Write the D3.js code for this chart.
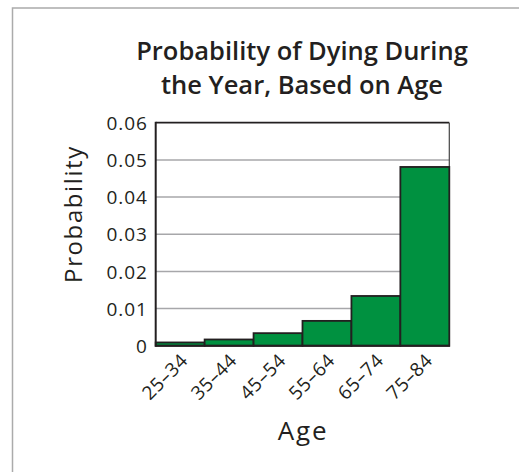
<!DOCTYPE html>
<html><head><meta charset="utf-8">
<script src="https://cdn.jsdelivr.net/npm/d3@7"></script>
<style>body{margin:0;background:#fff;}svg{display:block;}</style>
</head><body>
<script>
const categories = ["25–34","35–44","45–54","55–64","65–74","75–84"];
const values = [0.0009, 0.0017, 0.0034, 0.0067, 0.0134, 0.0481];
const yTicks = [0, 0.01, 0.02, 0.03, 0.04, 0.05, 0.06];
const yTickLabels = ["0","0.01","0.02","0.03","0.04","0.05","0.06"];
const titleLines = ["Probability of Dying During","the Year, Based on Age"];

const W = 519, H = 472;
const m = {left:155.7, top:122.7, right:449.3, bottom:345.8};
const font = "'Open Sans', sans-serif";
const ink = "#231f20";
const svg = d3.select("body").append("svg").attr("width",W).attr("height",H);

// outer frame
svg.append("path").attr("d",`M12.5,${H}V8H${W}`).attr("fill","none").attr("stroke","#ababab").attr("stroke-width",1.5);

const x = d3.scaleBand().domain(categories).range([m.left,m.right]).padding(0);
const y = d3.scaleLinear().domain([0,0.06]).range([m.bottom,m.top]);

// gridlines
svg.append("g").selectAll("line").data(yTicks.filter(d=>d>0 && d<0.06)).join("line")
  .attr("x1",m.left).attr("x2",m.right).attr("y1",d=>y(d)).attr("y2",d=>y(d))
  .attr("stroke","#a7a7aa").attr("stroke-width",1.5);

// top and right frame
svg.append("line").attr("x1",m.left).attr("x2",m.right).attr("y1",m.top).attr("y2",m.top).attr("stroke",ink).attr("stroke-width",1.8);
svg.append("line").attr("x1",m.right).attr("x2",m.right).attr("y1",m.top).attr("y2",m.bottom).attr("stroke","#444").attr("stroke-width",1.2);

// bars
svg.append("g").selectAll("rect").data(values).join("rect")
  .attr("x",(d,i)=>x(categories[i]))
  .attr("width",x.bandwidth())
  .attr("y",d=>y(d))
  .attr("height",d=>m.bottom-y(d))
  .attr("fill","#009140").attr("stroke",ink).attr("stroke-width",1.8);

// left axis and baseline
svg.append("line").attr("x1",m.left).attr("x2",m.left).attr("y1",m.top-0.9).attr("y2",m.bottom+0.9).attr("stroke",ink).attr("stroke-width",2);
svg.append("line").attr("x1",m.left).attr("x2",m.right+0.6).attr("y1",m.bottom).attr("y2",m.bottom).attr("stroke",ink).attr("stroke-width",2);

// y tick labels
const yAxis = d3.axisLeft(y).tickValues(yTicks).tickFormat((d,i)=>yTickLabels[i]).tickSize(0).tickPadding(8);
const ga = svg.append("g").attr("transform",`translate(${m.left},0)`).call(yAxis);
ga.select(".domain").remove();
ga.selectAll("text").attr("font-family",font).attr("font-size",19).attr("font-weight",500).attr("letter-spacing",0.9).attr("fill",ink).attr("dy","0.35em");

// x tick labels
const xAxis = d3.axisBottom(x).tickSize(0).tickPadding(0);
const gx = svg.append("g").attr("transform",`translate(0,${m.bottom})`).call(xAxis);
gx.select(".domain").remove();
gx.selectAll("text").attr("font-family",font).attr("font-size",19).attr("font-weight",500).attr("letter-spacing",0.5).attr("fill",ink)
  .attr("text-anchor","end").attr("dy",null).attr("y",0)
  .attr("transform","translate(9,16) rotate(-45)");

// title
svg.append("g").selectAll("text").data(titleLines).join("text")
  .attr("x",302).attr("y",(d,i)=>60+i*34).attr("text-anchor","middle")
  .attr("font-family",font).attr("font-weight",600).attr("font-size",25.5).attr("fill",ink)
  .text(d=>d);

// axis titles
svg.append("text").attr("transform","translate(82,214) rotate(-90)").attr("text-anchor","middle")
  .attr("font-family",font).attr("font-size",24).attr("font-weight",500).attr("letter-spacing",1.6).attr("fill",ink).text("Probability");
svg.append("text").attr("x",303).attr("y",440).attr("text-anchor","middle")
  .attr("font-family",font).attr("font-size",26).attr("font-weight",500).attr("letter-spacing",1.8).attr("fill",ink).text("Age");
</script>
</body></html>
